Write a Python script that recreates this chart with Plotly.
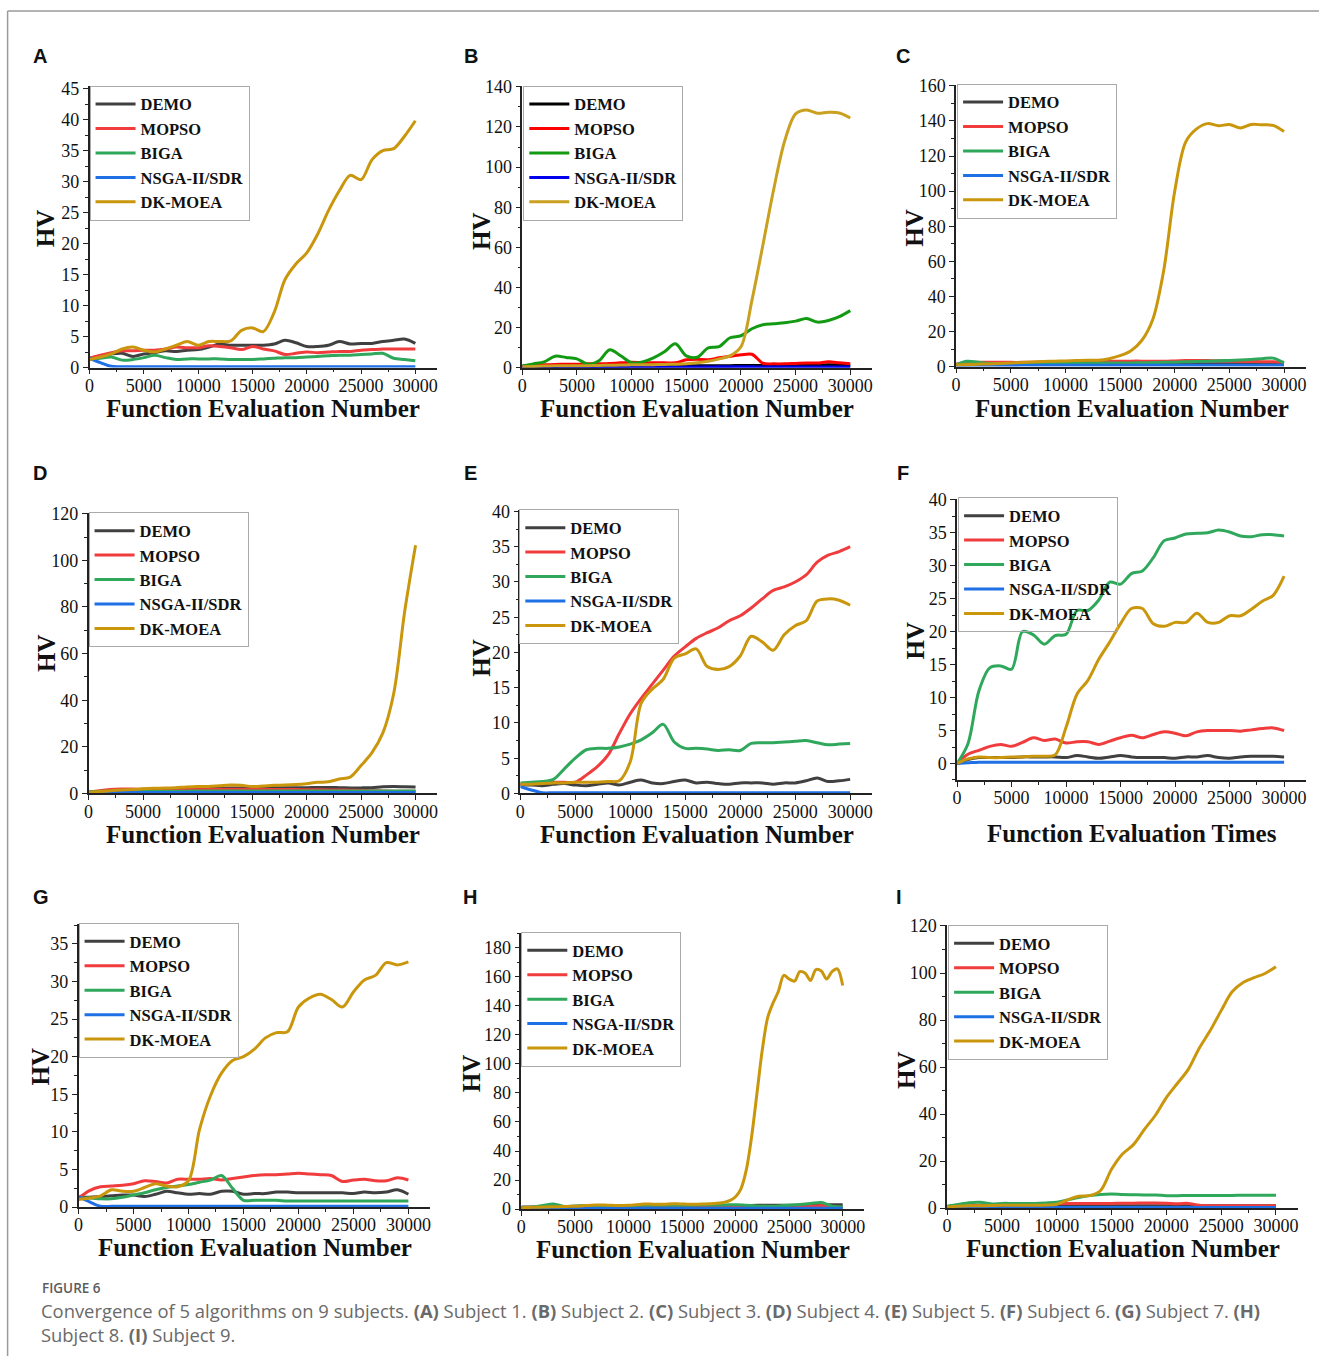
import plotly.graph_objects as go

# ---------------- data ----------------
X = [0, 1000, 2000, 3000, 4000, 5000, 6000, 7000, 8000, 9000, 10000, 11000, 12000, 13000, 14000, 15000,
     16000, 17000, 18000, 19000, 20000, 21000, 22000, 23000, 24000, 25000, 26000, 27000, 28000, 29000, 30000]
X_FINE = [0, 500, 1000, 1500, 2000, 2500, 3000, 3500, 4000, 4500, 5000, 5500, 6000, 6500, 7000, 7500,
          8000, 8500, 9000, 9500, 10000, 10500, 11000, 11500, 12000, 12500, 13000, 13500, 14000, 14500,
          15000, 15500, 16000, 16500, 17000, 17500, 18000, 18500, 19000, 19500, 20000, 20500, 21000,
          21500, 22000, 22500, 23000, 23500, 24000, 24500, 25000, 25500, 26000, 26500, 27000, 27500,
          28000, 28500, 29000, 29500, 30000]

NAMES = ["DEMO", "MOPSO", "BIGA", "NSGA-II/SDR", "DK-MOEA"]
X_TICKS = [0, 5000, 10000, 15000, 20000, 25000, 30000]

# Subject 1 (A)
A_DEMO = [1.5, 1.9, 2.2, 2.3, 1.8, 2.2, 2.4, 2.7, 2.6, 2.8, 2.9, 3.3, 3.8, 3.6, 3.6, 3.6, 3.6, 3.8, 4.4, 4.0, 3.4, 3.4, 3.6, 4.2, 3.8, 3.9, 3.9, 4.2, 4.4, 4.6, 3.9]
A_MOPSO = [1.5, 2.0, 2.4, 2.7, 2.7, 2.8, 2.8, 3.0, 3.3, 3.2, 3.2, 3.5, 3.4, 3.2, 2.9, 3.4, 3.0, 2.7, 2.1, 2.3, 2.5, 2.4, 2.5, 2.6, 2.6, 2.8, 2.9, 3.0, 3.0, 3.0, 3.0]
A_BIGA = [1.3, 1.5, 1.7, 1.2, 1.3, 1.6, 2.0, 1.6, 1.3, 1.4, 1.4, 1.4, 1.4, 1.3, 1.3, 1.3, 1.4, 1.5, 1.6, 1.6, 1.7, 1.8, 1.9, 2.0, 2.0, 2.1, 2.2, 2.3, 1.5, 1.3, 1.1]
A_NSGA = [1.5, 0.8, 0.2, 0.15, 0.15, 0.15, 0.15, 0.15, 0.15, 0.15, 0.15, 0.15, 0.15, 0.15, 0.15, 0.15, 0.15, 0.15, 0.15, 0.15, 0.15, 0.15, 0.15, 0.15, 0.15, 0.15, 0.15, 0.15, 0.15, 0.15, 0.15]
A_DK = [1.3, 1.7, 2.2, 3.0, 3.3, 2.8, 2.5, 3.0, 3.6, 4.2, 3.6, 4.2, 4.2, 4.3, 6.0, 6.4, 5.8, 8.9, 14.2, 16.7, 18.5, 21.5, 25.3, 28.5, 31.0, 30.3, 33.5, 35.0, 35.3, 37.3, 39.8]

# Subject 2 (B)
B_DEMO = [0.5, 0.6, 0.7, 0.7, 0.8, 0.8, 0.8, 0.9, 0.9, 0.9, 1.0, 1.0, 1.0, 1.0, 1.0, 1.0, 1.0, 1.0, 1.1, 1.1, 1.2, 1.2, 1.2, 1.2, 1.2, 1.2, 1.3, 1.3, 1.6, 1.4, 1.2]
B_MOPSO = [1.0, 1.3, 1.5, 1.7, 1.8, 1.8, 2.0, 2.0, 2.2, 2.5, 2.8, 2.5, 2.5, 2.5, 2.5, 4.0, 4.3, 4.0, 5.0, 5.8, 6.5, 6.8, 2.3, 2.0, 2.0, 2.2, 2.4, 2.4, 3.0, 2.5, 2.0]
B_BIGA = [1.0, 2.0, 3.0, 5.8, 5.2, 4.5, 1.8, 3.5, 9.0, 6.0, 2.5, 3.0, 5.0, 8.0, 12.0, 6.0, 5.3, 10.0, 10.6, 15.0, 16.0, 19.5, 21.5, 22.0, 22.5, 23.3, 24.6, 22.8, 23.6, 25.5, 28.5]
B_NSGA = [0.3, 0.3, 0.3, 0.3, 0.3, 0.3, 0.3, 0.3, 0.3, 0.3, 0.3, 0.3, 0.3, 0.3, 0.3, 0.4, 0.4, 0.4, 0.5, 0.5, 0.5, 0.5, 0.4, 0.4, 0.4, 0.4, 0.4, 0.4, 0.4, 0.4, 0.4]
B_DK = [0.5, 0.7, 0.9, 1.0, 1.0, 1.1, 1.1, 1.2, 1.3, 1.4, 1.5, 1.5, 1.6, 1.7, 1.8, 2.0, 2.5, 3.3, 4.5, 6.0, 10.5, 33.5, 61.0, 89.0, 113.0, 126.5, 128.5, 126.8, 127.3, 127.0, 124.5]

# Subject 3 (C)
C_DEMO = [1.0, 1.1, 1.2, 1.2, 1.3, 1.3, 1.4, 1.4, 1.5, 1.5, 1.5, 1.5, 1.6, 1.6, 1.6, 1.6, 1.6, 1.6, 1.6, 1.6, 1.6, 1.6, 1.6, 1.6, 1.6, 1.6, 1.6, 1.6, 1.6, 1.6, 1.5]
C_MOPSO = [1.5, 2.0, 2.5, 2.5, 2.5, 2.4, 2.4, 2.5, 2.6, 2.7, 2.8, 2.9, 3.0, 3.0, 3.0, 3.0, 3.1, 3.1, 3.0, 3.0, 3.2, 3.4, 3.5, 3.4, 3.3, 3.2, 3.0, 2.9, 2.8, 2.7, 2.5]
C_BIGA = [1.0, 3.0, 2.5, 1.8, 1.8, 1.8, 1.9, 1.9, 1.9, 2.0, 2.0, 2.0, 2.0, 2.0, 2.0, 2.0, 2.1, 2.2, 2.3, 2.4, 2.5, 2.7, 2.9, 3.1, 3.3, 3.5, 3.8, 4.1, 4.5, 4.8, 2.0]
C_NSGA = [0.5, 0.5, 0.6, 0.6, 0.6, 0.6, 0.7, 0.7, 0.7, 0.7, 0.7, 0.7, 0.7, 0.7, 0.7, 0.7, 0.7, 0.7, 0.7, 0.7, 0.7, 0.7, 0.7, 0.7, 0.7, 0.7, 0.7, 0.7, 0.7, 0.7, 0.7]
C_DK = [1.0, 1.2, 1.3, 1.5, 1.7, 2.0, 2.3, 2.6, 2.9, 3.1, 3.2, 3.4, 3.6, 3.6, 4.5, 6.2, 9.0, 15.0, 27.0, 55.0, 100.0, 128.0, 135.5, 138.5, 137.3, 138.0, 136.0, 138.0, 137.8, 137.5, 134.0]

# Subject 4 (D)
D_DEMO = [0.5, 0.7, 0.9, 1.1, 1.3, 1.4, 1.5, 1.6, 1.7, 1.8, 2.0, 2.1, 2.2, 2.3, 2.4, 2.5, 2.5, 2.5, 2.5, 2.5, 2.5, 2.6, 2.6, 2.5, 2.4, 2.4, 2.5, 2.9, 3.0, 2.9, 2.8]
D_MOPSO = [0.5, 1.2, 1.7, 1.9, 1.9, 1.8, 1.8, 1.8, 1.8, 1.8, 1.8, 1.8, 1.8, 1.8, 1.8, 1.8, 1.8, 1.7, 1.7, 1.7, 1.6, 1.6, 1.5, 1.5, 1.4, 1.3, 1.2, 1.1, 1.0, 1.0, 1.0]
D_BIGA = [0.8, 0.9, 0.9, 1.0, 1.0, 1.0, 1.0, 1.0, 1.0, 1.0, 1.1, 1.1, 1.1, 1.1, 1.1, 1.1, 1.1, 1.1, 1.1, 1.1, 1.1, 1.1, 1.1, 1.1, 1.1, 1.1, 1.1, 1.1, 1.1, 1.1, 1.1]
D_NSGA = [0.4, 0.4, 0.4, 0.4, 0.4, 0.4, 0.4, 0.4, 0.4, 0.4, 0.4, 0.4, 0.4, 0.4, 0.4, 0.4, 0.4, 0.4, 0.4, 0.4, 0.4, 0.4, 0.4, 0.4, 0.4, 0.4, 0.4, 0.4, 0.4, 0.4, 0.4]
D_DK = [0.5, 0.8, 1.2, 1.5, 1.7, 2.0, 2.2, 2.3, 2.5, 2.8, 3.0, 3.0, 3.3, 3.6, 3.5, 3.0, 3.2, 3.5, 3.6, 3.8, 4.2, 4.8, 5.0, 6.2, 7.0, 12.0, 17.5, 26.0, 43.0, 78.0, 106.5]

# Subject 5 (E)
E_DEMO = [1.2, 1.2, 1.1, 1.3, 1.4, 1.2, 1.1, 1.3, 1.5, 1.2, 1.6, 1.9, 1.5, 1.4, 1.7, 1.9, 1.5, 1.6, 1.4, 1.3, 1.5, 1.5, 1.5, 1.3, 1.5, 1.5, 1.8, 2.2, 1.7, 1.8, 2.0]
E_MOPSO = [1.3, 1.4, 1.5, 1.6, 1.6, 1.6, 2.6, 3.8, 5.5, 8.5, 11.3, 13.5, 15.5, 17.5, 19.5, 20.8, 22.0, 22.8, 23.5, 24.5, 25.2, 26.3, 27.6, 28.8, 29.3, 30.0, 31.0, 32.8, 33.8, 34.3, 35.0]
E_BIGA = [1.5, 1.6, 1.7, 2.0, 3.5, 5.0, 6.2, 6.4, 6.4, 6.6, 7.0, 7.6, 8.6, 9.8, 7.3, 6.4, 6.4, 6.3, 6.1, 6.2, 6.1, 7.1, 7.2, 7.2, 7.3, 7.4, 7.5, 7.2, 6.9, 7.0, 7.1]
E_NSGA = [1.0, 0.5, 0.1, 0.1, 0.1, 0.1, 0.1, 0.1, 0.1, 0.1, 0.1, 0.1, 0.1, 0.1, 0.1, 0.1, 0.1, 0.1, 0.1, 0.1, 0.1, 0.1, 0.1, 0.1, 0.1, 0.1, 0.1, 0.1, 0.1, 0.1, 0.1]
E_DK = [1.3, 1.3, 1.4, 1.5, 1.5, 1.6, 1.6, 1.6, 1.7, 1.8, 4.5, 12.8, 14.8, 16.2, 19.2, 19.8, 20.5, 18.0, 17.6, 18.0, 19.5, 22.3, 21.5, 20.3, 22.5, 23.8, 24.5, 27.3, 27.6, 27.4, 26.7]

# Subject 6 (F)
F_DEMO = [0.0, 0.6, 0.9, 0.9, 0.9, 0.9, 1.0, 1.0, 1.0, 1.0, 0.9, 1.2, 1.0, 0.8, 1.0, 1.2, 1.0, 0.9, 0.9, 0.9, 0.8, 1.0, 1.0, 1.2, 0.9, 0.8, 1.0, 1.1, 1.1, 1.1, 1.0]
F_MOPSO = [0.0, 1.4, 2.0, 2.6, 2.9, 2.6, 3.2, 3.9, 3.5, 3.7, 3.1, 3.3, 3.3, 2.9, 3.4, 3.9, 4.3, 3.9, 4.4, 4.8, 4.6, 4.2, 4.8, 5.0, 5.0, 5.0, 4.9, 5.1, 5.3, 5.4, 5.0]
F_BIGA = [0.0, 3.0, 11.0, 14.5, 14.8, 14.3, 20.0, 19.5, 18.1, 19.4, 19.6, 23.2, 23.2, 24.8, 27.5, 27.2, 28.8, 29.2, 31.2, 33.8, 34.2, 34.8, 34.9, 35.0, 35.4, 35.1, 34.5, 34.4, 34.7, 34.7, 34.5]
F_NSGA = [0.0, 0.1, 0.2, 0.2, 0.2, 0.2, 0.2, 0.2, 0.2, 0.2, 0.2, 0.2, 0.2, 0.2, 0.2, 0.2, 0.2, 0.2, 0.2, 0.2, 0.2, 0.2, 0.2, 0.2, 0.2, 0.2, 0.2, 0.2, 0.2, 0.2, 0.2]
F_DK = [0.0, 0.7, 1.0, 0.9, 0.9, 1.0, 1.0, 1.1, 1.1, 1.3, 5.5, 10.5, 12.6, 15.8, 18.4, 21.2, 23.5, 23.5, 21.2, 20.8, 21.4, 21.4, 22.8, 21.4, 21.4, 22.4, 22.4, 23.4, 24.6, 25.5, 28.4]

# Subject 7 (G)
G_DEMO = [1.3, 1.3, 1.4, 1.5, 1.6, 1.6, 1.4, 1.7, 2.1, 1.9, 1.7, 1.8, 1.7, 2.1, 2.1, 1.7, 1.8, 1.8, 2.0, 2.0, 1.9, 1.9, 1.9, 1.9, 1.9, 1.8, 2.0, 1.9, 2.0, 2.3, 1.7]
G_MOPSO = [1.2, 2.2, 2.7, 2.8, 2.9, 3.1, 3.5, 3.4, 3.2, 3.7, 3.7, 3.7, 3.8, 3.6, 3.8, 4.0, 4.2, 4.3, 4.3, 4.4, 4.5, 4.4, 4.3, 4.2, 3.4, 3.6, 3.7, 3.5, 3.5, 3.9, 3.6]
G_BIGA = [1.2, 1.2, 1.1, 1.1, 1.3, 1.6, 1.9, 2.3, 2.6, 2.8, 3.0, 3.3, 3.6, 4.2, 2.5, 0.9, 0.9, 0.9, 0.9, 0.8, 0.8, 0.8, 0.8, 0.8, 0.8, 0.8, 0.8, 0.8, 0.8, 0.8, 0.8]
G_NSGA = [1.4, 0.7, 0.1, 0.1, 0.1, 0.1, 0.1, 0.1, 0.1, 0.1, 0.1, 0.1, 0.1, 0.1, 0.1, 0.1, 0.1, 0.1, 0.1, 0.1, 0.1, 0.1, 0.1, 0.1, 0.1, 0.1, 0.1, 0.1, 0.1, 0.1, 0.1]
G_DK = [1.0, 1.2, 1.5, 2.3, 2.1, 2.1, 2.6, 3.1, 2.8, 2.7, 3.5, 10.3, 14.8, 17.8, 19.5, 20.0, 21.0, 22.5, 23.2, 23.3, 26.6, 27.8, 28.3, 27.6, 26.6, 28.6, 30.2, 30.8, 32.5, 32.2, 32.6]

# Subject 8 (H)
H_DEMO = [1.5, 1.5, 1.6, 1.7, 1.8, 1.9, 2.0, 2.0, 2.0, 2.1, 2.1, 2.2, 2.2, 2.3, 2.3, 2.3, 2.4, 2.4, 2.4, 2.5, 2.5, 2.5, 2.6, 2.6, 2.6, 2.7, 2.7, 2.8, 2.9, 3.0, 3.0]
H_MOPSO = [1.0, 1.0, 1.0, 1.1, 1.1, 1.2, 1.2, 1.2, 1.3, 1.3, 1.3, 1.4, 1.4, 1.4, 1.5, 1.5, 1.5, 1.6, 1.6, 1.8, 2.0, 1.8, 1.5, 1.5, 1.5, 1.5, 1.6, 1.8, 2.5, 1.8, 1.0]
H_BIGA = [1.0, 1.5, 2.5, 3.5, 1.8, 2.0, 2.5, 2.5, 2.5, 2.5, 2.5, 2.6, 2.6, 2.6, 2.7, 2.7, 2.7, 2.8, 2.8, 2.9, 3.0, 2.6, 2.2, 2.0, 2.2, 2.6, 3.2, 3.8, 4.5, 2.0, 1.5]
H_NSGA = [0.5, 0.5, 0.5, 0.5, 0.5, 0.5, 0.5, 0.5, 0.5, 0.5, 0.5, 0.5, 0.5, 0.5, 0.5, 0.5, 0.5, 0.5, 0.5, 0.5, 0.5, 0.5, 0.5, 0.5, 0.5, 0.5, 0.5, 0.5, 0.5, 0.5, 0.5]
H_DK = [1.0, 1.1, 1.2, 1.3, 1.4, 1.5, 1.6, 1.7, 1.8, 1.9, 2.0, 2.2, 2.5, 2.7, 2.8, 2.8, 2.7, 2.6, 2.5, 2.5,
        2.6, 2.8, 3.1, 3.5, 3.5, 3.3, 3.3, 3.4, 3.6, 3.6, 3.5, 3.4, 3.4, 3.4, 3.5, 3.6, 3.8, 4.2, 4.8, 6.0,
        8.5, 14.0, 27.0, 50.0, 80.0, 110.0, 132.0, 142.0, 150.0, 161.0, 158.5, 157.0, 163.5, 162.5, 157.5,
        165.0, 164.0, 158.5, 163.5, 165.5, 154.0]

# Subject 9 (I)
I_DEMO = [0.5, 0.6, 0.7, 0.7, 0.8, 0.8, 0.8, 0.8, 0.9, 0.9, 0.9, 0.9, 1.0, 1.0, 1.0, 1.0, 1.0, 1.0, 1.0, 1.0, 1.0, 1.0, 1.0, 1.0, 1.0, 1.0, 1.0, 1.0, 1.0, 1.0, 1.0]
I_MOPSO = [0.5, 0.8, 1.0, 1.2, 1.3, 1.5, 1.6, 1.6, 1.7, 1.8, 1.9, 2.0, 2.0, 2.0, 2.0, 2.0, 2.1, 2.1, 2.2, 2.2, 2.1, 1.8, 2.0, 1.2, 1.0, 1.0, 1.0, 1.0, 1.0, 1.0, 1.0]
I_BIGA = [0.8, 1.5, 2.3, 2.5, 1.8, 2.0, 2.0, 2.0, 2.0, 2.2, 2.5, 3.5, 4.5, 5.3, 5.8, 6.0, 5.8, 5.7, 5.6, 5.6, 5.3, 5.3, 5.4, 5.4, 5.4, 5.4, 5.4, 5.5, 5.5, 5.5, 5.5]
I_NSGA = [0.3, 0.3, 0.3, 0.3, 0.3, 0.3, 0.3, 0.3, 0.3, 0.3, 0.3, 0.3, 0.3, 0.3, 0.3, 0.3, 0.3, 0.3, 0.3, 0.3, 0.3, 0.3, 0.3, 0.3, 0.3, 0.3, 0.3, 0.3, 0.3, 0.3, 0.3]
I_DK = [0.5, 0.8, 1.0, 1.0, 1.1, 1.2, 1.2, 1.2, 1.2, 1.3, 1.6, 3.5, 5.0, 5.3, 7.5, 16.5, 23.0, 27.0, 33.5, 39.5, 47.0, 53.0, 59.0, 68.0, 75.5, 84.0, 92.0, 96.0, 98.0, 99.8, 102.7]

# ---------------- styling / layout ----------------
W, H = 1320, 1366
SERIF = "Liberation Serif"
COLORS = ["#404040", "#f03c3c", "#2fa85c", "#1f6fe5", "#c9960c"]
COLORS_B = ["#000000", "#ff0000", "#139a13", "#0000ee", "#c9a020"]

# the captured picture maps figure pixels slightly (offset + mild vertical squeeze);
# these constants convert target-picture pixel positions into figure paper coordinates
SX, OX = 0.996, 4.4
SY, OY = 0.987, 8.1


def px(x):
    return ((x - OX) / SX) / W


def py(y):
    return 1 - ((y - OY) / SY) / H


# panel geometry in target pixels (left of x axis, right end, bottom, top of y axis)
PANELS = [
    dict(letter="A", series=[A_DEMO, A_MOPSO, A_BIGA, A_NSGA, A_DK], x0=89, xe=436.7, yb=367, yt=85.2,
         yr=[0, 45.4], ydt=5, ymn=2.5, xt=(263, 408), hv=(45, 228), lp=(39.5, 55), lg=(89, 85),
         xtitle="Function Evaluation Number"),
    dict(letter="B", series=[B_DEMO, B_MOPSO, B_BIGA, B_NSGA, B_DK], x0=522, xe=872, yb=367.3, yt=85,
         yr=[0, 140.5], ydt=20, ymn=10, xt=(697, 408), hv=(481, 230), lp=(471, 55), lg=(523, 85),
         xtitle="Function Evaluation Number"),
    dict(letter="C", series=[C_DEMO, C_MOPSO, C_BIGA, C_NSGA, C_DK], x0=956, xe=1306, yb=366, yt=84.2,
         yr=[0, 160.5], ydt=20, ymn=10, xt=(1132, 408), hv=(915, 227), lp=(903, 55), lg=(957, 83),
         xtitle="Function Evaluation Number"),
    dict(letter="D", series=[D_DEMO, D_MOPSO, D_BIGA, D_NSGA, D_DK], x0=88, xe=437, yb=793.3, yt=512.6,
         yr=[0, 120.3], ydt=20, ymn=10, xt=(263, 834), hv=(46, 653), lp=(39, 473), lg=(88, 512),
         xtitle="Function Evaluation Number"),
    dict(letter="E", series=[E_DEMO, E_MOPSO, E_BIGA, E_NSGA, E_DK], x0=520, xe=872, yb=793.3, yt=509.6,
         yr=[0, 40.2], ydt=5, ymn=2.5, xt=(697, 834), hv=(481, 657), lp=(470, 473), lg=(519, 509),
         xtitle="Function Evaluation Number"),
    dict(letter="F", series=[F_DEMO, F_MOPSO, F_BIGA, F_NSGA, F_DK], x0=957, xe=1306, yb=779.8, yt=498.6,
         yr=[-2.5, 40.1], ydt=5, ymn=2.5, xt=(1132, 833), hv=(915, 640), lp=(903, 473), lg=(958, 497),
         xtitle="Function Evaluation Times"),
    dict(letter="G", series=[G_DEMO, G_MOPSO, G_BIGA, G_NSGA, G_DK], x0=78, xe=430, yb=1207.3, yt=924.2,
         yr=[0, 37.6], ydt=5, ymn=2.5, xt=(255, 1248), hv=(40, 1067), lp=(40, 897), lg=(78, 923),
         xtitle="Function Evaluation Number"),
    dict(letter="H", series=[H_DEMO, H_MOPSO, H_BIGA, H_NSGA, H_DK], x0=521, xe=864, yb=1209.3, yt=933.2,
         yr=[0, 190], ydt=20, ymn=10, xt=(693, 1250), hv=(472, 1073), lp=(470, 897), lg=(521, 932),
         xtitle="Function Evaluation Number"),
    dict(letter="I", series=[I_DEMO, I_MOPSO, I_BIGA, I_NSGA, I_DK], x0=947, xe=1298, yb=1208.3, yt=925,
         yr=[0, 120.4], ydt=20, ymn=10, xt=(1123, 1249), hv=(907, 1070), lp=(899, 897), lg=(948, 925),
         xtitle="Function Evaluation Number"),
]

fig = go.Figure()
annotations = []
layout = {}

for i, p in enumerate(PANELS, start=1):
    sfx = "" if i == 1 else str(i)
    legend_name = "legend" + sfx
    cols = COLORS_B if p["letter"] == "B" else COLORS
    for k, (name, vals) in enumerate(zip(NAMES, p["series"])):
        xs = X_FINE if len(vals) == len(X_FINE) else X
        fig.add_trace(go.Scatter(
            x=xs, y=vals, mode="lines", name=name,
            line=dict(color=cols[k], width=3, shape="spline", smoothing=0.9),
            xaxis="x" + sfx, yaxis="y" + sfx, legend=legend_name,
            hoverinfo="skip",
        ))
    axis_common = dict(
        showline=True, linecolor="#222222", linewidth=1.5, showgrid=False, zeroline=False,
        ticks="outside", ticklen=5, tickwidth=1.3, tickcolor="#222222",
        tickfont=dict(family=SERIF, size=18, color="#111111"),
    )
    layout["xaxis" + sfx] = dict(
        axis_common, domain=[px(p["x0"]), px(p["xe"])], range=[0, 32000], anchor="y" + sfx,
        tickmode="array", tickvals=X_TICKS, ticktext=[str(v) for v in X_TICKS],
        ticklabelstandoff=-4,
        minor=dict(ticks="outside", ticklen=3, tickwidth=1, tickcolor="#222222", dtick=2500, tick0=0),
    )
    layout["yaxis" + sfx] = dict(
        axis_common, domain=[py(p["yb"]), py(p["yt"])], range=p["yr"], anchor="x" + sfx,
        tick0=0, dtick=p["ydt"],
        minor=dict(ticks="outside", ticklen=3, tickwidth=1, tickcolor="#222222", dtick=p["ymn"], tick0=0),
    )
    layout[legend_name] = dict(
        x=px(p["lg"][0]), y=py(p["lg"][1]), xanchor="left", yanchor="top",
        bgcolor="rgba(255,255,255,0)", bordercolor="#aaaaaa", borderwidth=1,
        font=dict(family=SERIF, size=16.5, color="#111111", weight="bold"),
        tracegroupgap=0, itemwidth=40,
    )
    annotations.append(dict(
        text=p["xtitle"], x=px(p["xt"][0]), y=py(p["xt"][1]), xref="paper", yref="paper",
        xanchor="center", yanchor="middle", showarrow=False,
        font=dict(family=SERIF, size=25, color="#111111", weight="bold"),
    ))
    annotations.append(dict(
        text="HV", x=px(p["hv"][0]), y=py(p["hv"][1]), xref="paper", yref="paper",
        xanchor="center", yanchor="middle", showarrow=False, textangle=-90,
        font=dict(family=SERIF, size=25, color="#111111", weight="bold"),
    ))
    annotations.append(dict(
        text=p["letter"], x=px(p["lp"][0]), y=py(p["lp"][1]), xref="paper", yref="paper",
        xanchor="center", yanchor="middle", showarrow=False,
        font=dict(family="Liberation Sans", size=20, color="#111111", weight="bold"),
    ))

CAPTION_HEAD = "FIGURE 6"
CAPTION_1 = ("Convergence of 5 algorithms on 9 subjects. <b>(A)</b> Subject 1. <b>(B)</b> Subject 2. "
             "<b>(C)</b> Subject 3. <b>(D)</b> Subject 4. <b>(E)</b> Subject 5. <b>(F)</b> Subject 6. "
             "<b>(G)</b> Subject 7. <b>(H)</b>")
CAPTION_2 = "Subject 8. <b>(I)</b> Subject 9."

annotations.append(dict(text=CAPTION_HEAD, x=px(39), y=py(1288), xref="paper", yref="paper",
                        xanchor="left", yanchor="middle", showarrow=False,
                        font=dict(family="Open Sans", size=13.5, color="#5c5c5c", weight=600)))
annotations.append(dict(text=CAPTION_1, x=px(38), y=py(1311), xref="paper", yref="paper",
                        xanchor="left", yanchor="middle", showarrow=False,
                        font=dict(family="Open Sans", size=18.4, color="#6a6a6a")))
annotations.append(dict(text=CAPTION_2, x=px(38), y=py(1335), xref="paper", yref="paper",
                        xanchor="left", yanchor="middle", showarrow=False,
                        font=dict(family="Open Sans", size=18.4, color="#6a6a6a")))

shapes = [
    dict(type="line", xref="paper", yref="paper", x0=px(7), x1=1.0, y0=py(10), y1=py(10),
         line=dict(color="#9a9a9a", width=1.5)),
    dict(type="line", xref="paper", yref="paper", x0=px(7), x1=px(7), y0=py(10), y1=0.0,
         line=dict(color="#9a9a9a", width=1.5)),
]

fig.update_layout(
    width=W, height=H, margin=dict(l=0, r=0, t=0, b=0),
    paper_bgcolor="white", plot_bgcolor="rgba(0,0,0,0)",
    showlegend=True, annotations=annotations, shapes=shapes,
    **layout,
)

PAGE_FIX = (
    "var gd=document.getElementById('{plot_id}');"
    "gd.style.position='fixed';gd.style.left='0px';gd.style.top='0px';"
    "document.documentElement.style.margin='0px';document.body.style.margin='0px';"
    "document.documentElement.style.height='1366px';document.body.style.height='1366px';"
    "document.documentElement.style.overflow='hidden';document.body.style.overflow='hidden';"
)

fig.write_html("out.html", post_script=PAGE_FIX, config={"displayModeBar": False})
